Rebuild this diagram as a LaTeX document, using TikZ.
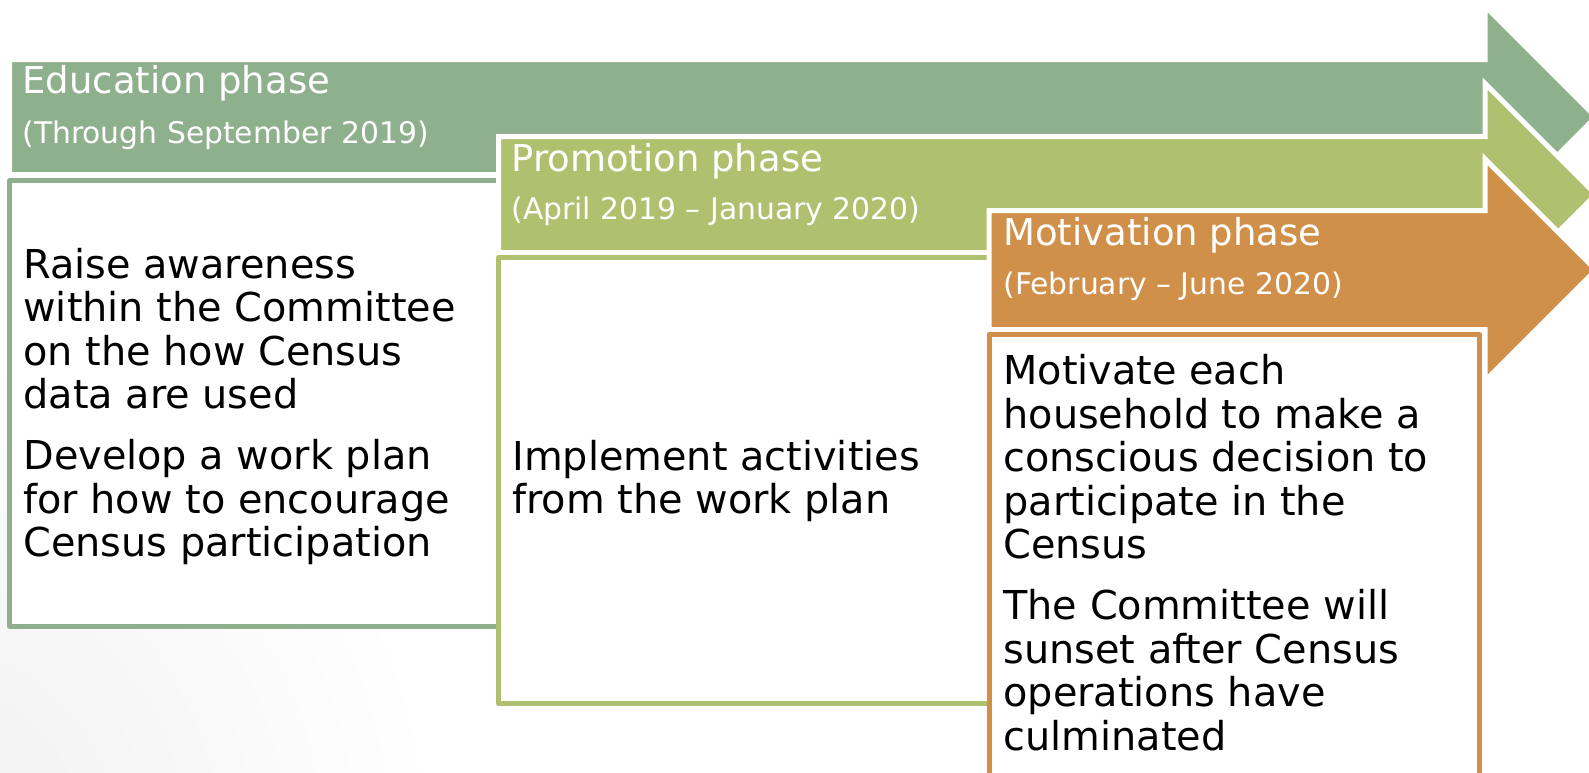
\documentclass[tikz,border=0pt]{standalone}
\usepackage{fontspec}
\setmainfont{DejaVu Sans}
\definecolor{edugreen}{HTML}{8FB08C}
\definecolor{progreen}{HTML}{AFC06F}
\definecolor{motorange}{HTML}{D1904A}
\tikzset{
  arrowshape/.style={draw=white, line width=2.5pt},
  bodybox/.style={fill=white, line width=2.5pt, line join=round},
  headtext/.style={anchor=base west, inner sep=0pt, text=white, font=\fontsize{18.5pt}{22pt}\selectfont},
  subtext/.style={anchor=base west, inner sep=0pt, text=white, font=\fontsize{14.9pt}{18pt}\selectfont},
  bodytext/.style={anchor=base west, inner sep=0pt, align=left, text=black, font=\fontsize{19.9pt}{21.75pt}\selectfont},
}
\begin{document}
\begin{tikzpicture}[x=0.5pt, y=-0.5pt]
\useasboundingbox (0,0) rectangle (1589,772);
\clip (0,0) rectangle (1589,772);
\fill[white] (0,0) rectangle (1589,772);
\shade[inner color=black!6, outer color=white] (-80,840) circle (520);
% Education phase
\fill[edugreen, arrowshape] (9.5,59.5) -- (1485,59.5) -- (1485,6) -- (1596,117) -- (1485,228) -- (1485,174.5) -- (9.5,174.5) -- cycle;
\draw[bodybox, draw=edugreen] (9.5,180.5) rectangle (500,626);
\node[headtext] (eduhead) at (22,93) {Education phase};
\node[subtext] (edusub) at (22,143) {(Through September 2019)};
\node[bodytext] (edubody) at (23,556.5) {Raise awareness\\within the Committee\\on the how Census\\data are used\\[8.75pt]Develop a work plan\\for how to encourage\\Census participation};
% Promotion phase
\fill[progreen, arrowshape] (498.5,136.5) -- (1485,136.5) -- (1485,83.5) -- (1596,194.5) -- (1485,305.5) -- (1485,252.5) -- (498.5,252.5) -- cycle;
\draw[bodybox, draw=progreen] (498.5,257.5) rectangle (990,703.5);
\node[headtext] (prohead) at (511,171) {Promotion phase};
\node[subtext] (prosub) at (511,219) {(April 2019 – January 2020)};
\node[bodytext] (probody) at (512,513.5) {Implement activities\\from the work plan};
% Motivation phase
\fill[motorange, arrowshape] (989,210.5) -- (1485,210.5) -- (1485,159) -- (1596,270) -- (1485,381) -- (1485,329.5) -- (989,329.5) -- cycle;
\draw[bodybox, draw=motorange] (989,334.5) rectangle (1479.5,781);
\node[headtext] (mothead) at (1003,245) {Motivation phase};
\node[subtext] (motsub) at (1003,294) {(February – June 2020)};
\node[bodytext] (motbody) at (1003,750) {Motivate each\\household to make a\\conscious decision to\\participate in the\\Census\\[8.75pt]The Committee will\\sunset after Census\\operations have\\culminated};
\end{tikzpicture}
\end{document}
